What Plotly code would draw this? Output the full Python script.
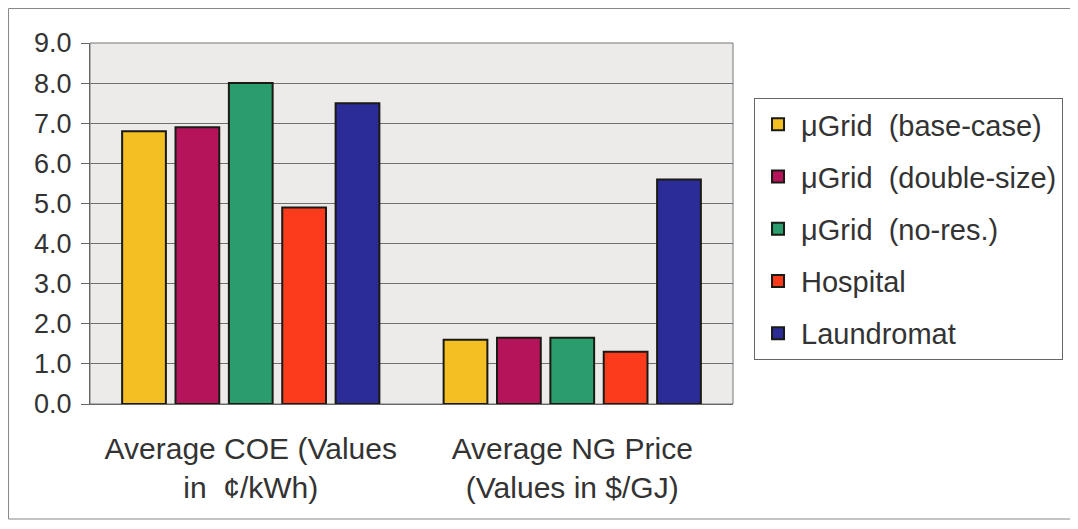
import plotly.graph_objects as go

categories = ["Average COE (Values<br>in  ¢/kWh)", "Average NG Price<br>(Values in $/GJ)"]
series_names = ["μGrid  (base-case)", "μGrid  (double-size)", "μGrid  (no-res.)", "Hospital", "Laundromat"]
base_case = [6.8, 1.6]
double_size = [6.9, 1.65]
no_res = [8.0, 1.65]
hospital = [4.9, 1.3]
laundromat = [7.5, 5.6]
series_values = [base_case, double_size, no_res, hospital, laundromat]
colors = ["#f4bf22", "#b5145a", "#2b9c6b", "#fb3b1c", "#2c2c98"]
y_ticks = [0, 1, 2, 3, 4, 5, 6, 7, 8, 9]
y_tick_labels = ["0.0", "1.0", "2.0", "3.0", "4.0", "5.0", "6.0", "7.0", "8.0", "9.0"]

fig = go.Figure()
for i, (name, vals, col) in enumerate(zip(series_names, series_values, colors)):
    fig.add_trace(go.Bar(
        x=categories, y=vals, name=name,
        marker=dict(color=col, line=dict(color="#1a1a14", width=2)),
        legendgroup=f"g{i}",
    ))

font_family = "Liberation Sans, Arial, sans-serif"
fig.update_layout(
    width=1078, height=529,
    margin=dict(l=82, r=353, t=35, b=133),
    paper_bgcolor="#ffffff",
    plot_bgcolor="#ecebe9",
    barmode="group",
    bargap=0.17,
    bargroupgap=0.18,
    font=dict(family=font_family, size=27, color="#333333"),
    showlegend=True,
    legend=dict(
        x=1.0327, y=0.8476, xanchor="left", yanchor="top",
        bordercolor="#666666", borderwidth=1, bgcolor="#ffffff",
        font=dict(size=29, color="#333333"),
        tracegroupgap=11.5,
        itemwidth=36,
    ),
    xaxis=dict(
        showline=True, linecolor="#666666", linewidth=1, mirror=False,
        ticks="", tickfont=dict(size=30), ticklabelstandoff=18,
    ),
    yaxis=dict(
        range=[0, 9], tickvals=y_ticks, ticktext=y_tick_labels,
        showgrid=True, gridcolor="#707070", gridwidth=1,
        showline=True, linecolor="#666666", linewidth=1,
        ticks="outside", ticklen=8, tickcolor="#666666",
        tickfont=dict(size=27), zeroline=False, ticklabelstandoff=4,
    ),
    shapes=[
        dict(type="rect", xref="paper", yref="paper", x0=0, x1=1, y0=0, y1=1,
             line=dict(color="#777777", width=1), fillcolor="rgba(0,0,0,0)", layer="below"),
        dict(type="rect", xref="paper", yref="paper", x0=-0.1267, x1=1.6, y0=-0.3186, y1=1.0955,
             line=dict(color="#888888", width=1), fillcolor="rgba(0,0,0,0)"),
    ],
)

fig.write_html("out.html")
